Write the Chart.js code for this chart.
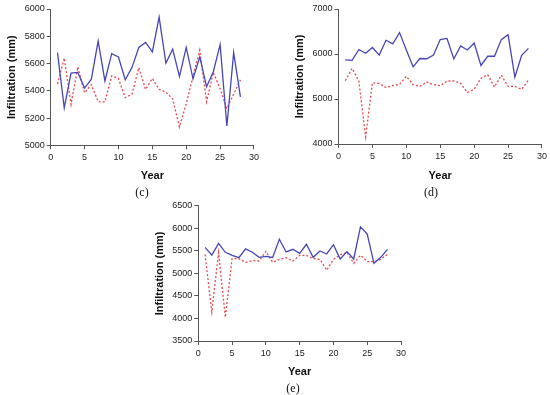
<!DOCTYPE html>
<html>
<head>
<meta charset="UTF-8">
<script src="https://cdn.jsdelivr.net/npm/chart.js"></script>
<style>
body{margin:0;background:#fff;width:550px;height:395px;position:relative;overflow:hidden}
canvas{position:absolute}
.cap{position:absolute;font:12px "Liberation Serif",serif;color:#111;transform:translate(-50%,-50%)}
</style>
</head>
<body>
<canvas id="chartC" width="262" height="185" style="left:0;top:0"></canvas>
<canvas id="chartD" width="262" height="185" style="left:288px;top:0"></canvas>
<canvas id="chartE" width="262" height="184" style="left:148px;top:197px"></canvas>
<div class="cap" style="left:142px;top:192px">(c)</div>
<div class="cap" style="left:431px;top:192px">(d)</div>
<div class="cap" style="left:293px;top:388px">(e)</div>
<script>
// years 1..28
const years = [1,2,3,4,5,6,7,8,9,10,11,12,13,14,15,16,17,18,19,20,21,22,23,24,25,26,27,28];
const xTicks = [0,5,10,15,20,25,30];

// (c)
const blueC = [5680,5275,5530,5535,5420,5485,5765,5472,5672,5648,5480,5572,5718,5755,5685,5940,5603,5705,5505,5718,5488,5648,5430,5540,5738,5142,5680,5355];
const redC  = [5450,5640,5300,5575,5385,5445,5320,5318,5510,5490,5350,5375,5570,5410,5490,5410,5390,5340,5135,5305,5505,5698,5320,5535,5415,5270,5375,5480];
const yTicksC = [5000,5200,5400,5600,5800,6000];

// (d)
const blueD = [5870,5860,6100,6015,6145,5975,6305,6225,6475,6090,5715,5900,5895,5975,6320,6345,5890,6180,6090,6245,5745,5950,5950,6320,6430,5485,5970,6125];
const redD  = [5405,5680,5400,4160,5360,5345,5255,5300,5325,5505,5320,5280,5380,5320,5295,5400,5400,5350,5145,5215,5460,5540,5265,5530,5280,5280,5215,5420];
const yTicksD = [4000,5000,6000,7000];

// (e)
const blueE = [5575,5405,5664,5467,5398,5347,5542,5467,5355,5378,5352,5755,5474,5533,5444,5644,5355,5496,5429,5636,5318,5481,5318,6030,5870,5222,5355,5533];
const redE  = [5422,4145,5459,4026,5326,5326,5244,5281,5274,5488,5244,5311,5348,5274,5400,5400,5326,5311,5070,5311,5407,5467,5222,5400,5259,5259,5311,5422];
const yTicksE = [3500,4000,4500,5000,5500,6000,6500];

const tickFont = {family: 'Arial, "Liberation Sans", sans-serif', size: 9};
const titleFont = {family: 'Arial, "Liberation Sans", sans-serif', size: 11, weight: 'bold'};

function makeChart(id, blue, red, yTicks, yWidth, xHeight, pad) {
  const pts = arr => years.map((y, i) => ({x: y, y: arr[i]}));
  return new Chart(document.getElementById(id), {
    type: 'line',
    data: {
      datasets: [
        {data: pts(blue), borderColor: '#4646b8', borderWidth: 1.3, pointRadius: 0, tension: 0},
        {data: pts(red), borderColor: '#e5484d', borderWidth: 1.3, borderDash: [2, 2], pointRadius: 0, tension: 0}
      ]
    },
    options: {
      responsive: false,
      animation: false,
      events: [],
      layout: {padding: pad},
      plugins: {legend: {display: false}, tooltip: {enabled: false}},
      scales: {
        x: {
          type: 'linear',
          min: xTicks[0],
          max: xTicks[xTicks.length - 1],
          afterBuildTicks: s => { s.ticks = xTicks.map(v => ({value: v})); },
          afterFit: s => { s.height = xHeight; },
          border: {color: '#555', width: 1},
          grid: {drawOnChartArea: false, tickLength: 4, color: '#555'},
          ticks: {font: tickFont, color: '#222', padding: 3, maxRotation: 0},
          title: {display: true, text: 'Year', font: titleFont, color: '#111', padding: {top: 0, bottom: 2}}
        },
        y: {
          min: yTicks[0],
          max: yTicks[yTicks.length - 1],
          afterBuildTicks: s => { s.ticks = yTicks.map(v => ({value: v})); },
          afterFit: s => { s.width = yWidth; },
          border: {color: '#555', width: 1},
          grid: {drawOnChartArea: false, tickLength: 4, color: '#555'},
          ticks: {font: tickFont, color: '#222', padding: 2, callback: v => String(v)},
          title: {display: true, text: 'Infiltration (mm)', font: titleFont, color: '#111', padding: {top: 5, bottom: 0}}
        }
      }
    }
  });
}

makeChart('chartC', blueC, redC, yTicksC, 50.7, 39.7, {top: 9, right: 6, left: 0, bottom: 0});
makeChart('chartD', blueD, redD, yTicksD, 50.5, 41, {top: 9, right: 7.5, left: 0, bottom: 0});
makeChart('chartE', blueE, redE, yTicksE, 50.3, 40, {top: 8.7, right: 9, left: 0, bottom: 0});
</script>
</body>
</html>
